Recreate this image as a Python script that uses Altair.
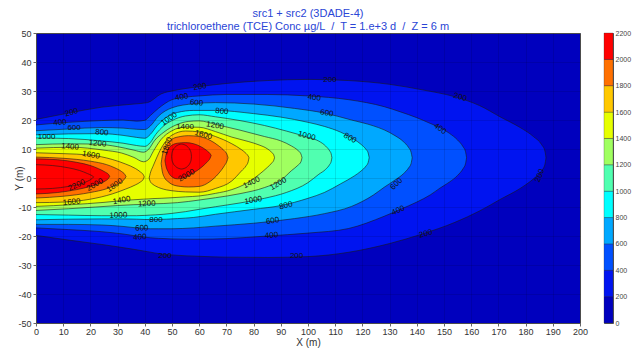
import altair as alt
import pandas as pd

FONT = "Liberation Sans"

# ---- contour levels and band colours (colour i = band [200*i, 200*(i+1)) ) ----
LEVELS = [200, 400, 600, 800, 1000, 1200, 1400, 1600, 1800, 2000, 2200]
BAND_COLORS = ["#0000BE", "#0014F0", "#0050FF", "#00A8FF", "#00FFFF", "#50FFB0",
               "#A0FF60", "#E6FF00", "#FFC800", "#FF7000", "#FF0000"]
CBAR_TICKS = [0, 200, 400, 600, 800, 1000, 1200, 1400, 1600, 1800, 2000, 2200]

# ---- contour outlines: x, lower y, upper y (m) ----
L200_X = [0, 12, 24, 36, 41, 46, 51, 60, 70, 85, 100, 115, 130, 142, 154, 163, 171, 178, 183, 185.9, 187.1, 187.5]
L200_HI = [20.2, 22.4, 24.4, 25.5, 26.0, 29.0, 30.2, 31.5, 32.6, 33.6, 34.0, 33.6, 32.3, 30.4, 28.0, 25.0, 20.9, 17.4, 14.2, 11.5, 9.3, 7.0]
L200_LO = [-19.8, -21.4, -22.9, -24.6, -25.4, -26.2, -26.6, -27.0, -27.3, -27.4, -27.1, -25.6, -22.6, -19.3, -15.3, -11.4, -7.2, -3.6, -0.2, 2.5, 4.7, 7.0]

L400_X = [0, 12, 24, 32, 37, 40, 42, 45, 50, 55, 60, 70, 85, 100, 115, 128, 134, 140, 145, 148.5, 152, 155, 157, 157.9, 158.3]
L400_HI = [18.3, 19.2, 19.8, 20.0, 19.6, 19.9, 21.5, 24.0, 27.0, 27.9, 28.3, 28.8, 28.8, 28.3, 27.0, 24.6, 22.8, 20.8, 18.8, 17.4, 15.4, 13.1, 10.8, 9.1, 7.0]
L400_LO = [-17.2, -17.8, -18.5, -19.3, -20.0, -20.4, -20.6, -20.8, -21.0, -21.1, -21.1, -20.9, -20.0, -19.0, -17.4, -13.2, -10.8, -8.3, -5.8, -3.5, -1.4, 0.9, 3.2, 4.9, 7.0]

L600_X = [0, 12, 24, 32, 37, 40, 42, 45, 50, 58, 66, 80, 95, 106, 116, 124, 128, 132, 135, 137, 137.9, 138.3]
L600_HI = [16.3, 16.9, 17.4, 17.2, 16.8, 16.7, 17.9, 21.3, 24.2, 25.6, 26.0, 25.5, 24.0, 22.4, 20.0, 18.0, 16.6, 14.6, 12.6, 10.5, 8.9, 7.0]
L600_LO = [-16.0, -16.0, -16.2, -16.7, -17.2, -17.4, -17.5, -17.5, -17.5, -17.2, -16.6, -15.6, -14.0, -12.3, -9.8, -5.9, -3.2, -0.7, 1.4, 3.5, 5.0, 7.0]

L800_X = [0, 12, 24, 32, 37, 40, 42, 44.5, 48, 52, 58, 66, 80, 90, 100, 106, 112, 117, 119.5, 121.3, 122.1, 122.5]
L800_HI = [14.9, 15.2, 15.3, 14.7, 14.0, 13.7, 15.0, 18.0, 21.0, 22.6, 23.3, 23.3, 22.2, 21.0, 19.2, 17.8, 15.8, 13.3, 11.6, 9.9, 8.7, 7.0]
L800_LO = [-14.4, -14.2, -14.1, -14.1, -14.2, -14.3, -14.3, -14.3, -14.2, -14.0, -13.6, -12.5, -10.8, -9.5, -7.0, -5.0, -2.0, 0.7, 2.4, 4.1, 5.3, 7.0]

L1000_X = [0, 12, 24, 32, 37, 40, 42, 44, 47, 50, 55, 60, 66, 75, 84, 92, 100, 104, 106.5, 108, 108.5, 108.8]
L1000_HI = [13.8, 13.6, 12.8, 12.0, 11.2, 10.9, 12.2, 15.0, 18.0, 19.8, 21.4, 21.8, 21.1, 19.8, 18.1, 16.2, 14.0, 12.7, 11.0, 9.3, 8.4, 7.0]
L1000_LO = [-12.6, -12.8, -13.0, -13.0, -13.0, -12.9, -12.8, -12.7, -12.5, -12.2, -11.6, -10.8, -9.9, -8.6, -7.0, -5.0, -1.6, 1.3, 3.0, 4.7, 5.6, 7.0]

L1200_X = [0, 12, 22, 30, 36, 39.5, 41.5, 43.5, 47, 52, 56, 60, 66, 75, 84, 90, 94, 96.3, 97.4, 97.8]
L1200_HI = [11.5, 11.8, 11.7, 10.8, 9.6, 8.9, 10.0, 12.8, 15.8, 18.5, 19.5, 19.7, 18.5, 16.5, 14.3, 12.8, 11.0, 9.5, 8.3, 7.0]
L1200_LO = [-11.2, -10.6, -10.0, -9.5, -9.2, -9.1, -9.0, -8.9, -8.8, -8.5, -8.1, -7.6, -6.8, -5.4, -3.3, -0.8, 2.6, 4.4, 5.6, 7.0]

L1400_X = [0, 13, 25, 31.5, 36, 39.5, 41.5, 43, 46, 50, 55, 60, 66, 72, 78, 82, 85, 86.7, 87.4, 87.7]
L1400_HI = [10.3, 10.6, 9.6, 8.6, 7.1, 5.6, 6.5, 9.0, 13.3, 16.3, 17.6, 17.5, 16.0, 14.1, 12.6, 11.4, 10.1, 8.8, 8.0, 7.0]
L1400_LO = [-9.8, -9.2, -8.4, -7.8, -7.5, -7.3, -7.2, -7.1, -7.0, -6.8, -6.5, -6.2, -5.3, -4.0, -1.5, 1.2, 3.6, 5.2, 6.1, 7.0]

L1600A_X = [0, 10, 20, 28, 33, 36.5, 38.5, 39.4, 39.8]
L1600A_HI = [8.7, 8.4, 7.9, 6.4, 4.8, 3.3, 2.0, 1.2, 0.4]
L1600A_LO = [-8.5, -8.3, -7.3, -5.5, -3.8, -2.4, -1.3, -0.5, 0.4]

L1600B_X = [41.6, 42.0, 43.0, 44, 46, 48, 50, 55, 60, 66, 72, 75.5, 77.3, 78.0, 78.3]
L1600B_HI = [0.0, 1.6, 4.0, 6.2, 10.2, 13.0, 14.8, 16.2, 15.9, 14.3, 11.8, 9.8, 8.4, 7.6, 7.0]
L1600B_LO = [0.0, -1.2, -2.2, -2.8, -3.6, -4.1, -4.4, -4.8, -4.9, -3.6, -1.0, 2.4, 4.3, 5.6, 7.0]

L1800A_X = [0, 10, 20, 26, 29, 31.5, 32.6, 33.1]
L1800A_HI = [7.2, 6.8, 5.8, 4.6, 3.5, 2.2, 1.3, 0.5]
L1800A_LO = [-6.9, -6.3, -5.0, -3.7, -2.6, -1.3, -0.3, 0.5]

L1800B_X = [46.0, 46.4, 47.2, 48.5, 50, 53, 56, 60, 64, 67, 69.3, 70.2, 70.6]
L1800B_HI = [5.0, 7.5, 10.0, 12.0, 13.4, 14.3, 14.6, 14.3, 13.0, 11.2, 9.3, 8.2, 7.0]
L1800B_LO = [5.0, 2.4, 0.2, -1.2, -2.2, -2.9, -3.1, -2.9, -1.2, 1.4, 4.3, 5.8, 7.0]

L2000A_X = [0, 8, 15, 20, 23, 25.5, 26.6, 27.1]
L2000A_HI = [6.6, 6.3, 5.4, 4.3, 3.2, 2.0, 1.3, 0.6]
L2000A_LO = [-5.5, -5.0, -4.0, -2.9, -2.0, -1.0, -0.2, 0.6]

L2000B_X = [47.4, 47.8, 48.5, 49.5, 52, 55, 58, 61, 63, 64.0, 64.4]
L2000B_HI = [6.0, 8.0, 9.8, 11.0, 12.0, 12.2, 11.8, 10.6, 9.3, 8.4, 7.8]
L2000B_LO = [6.0, 4.0, 2.3, 0.8, -0.3, 0.3, 1.8, 3.8, 5.6, 6.8, 7.8]

L2200A_X = [0, 6, 12, 16, 19, 20.6, 21.2]
L2200A_HI = [4.6, 4.3, 3.5, 2.6, 1.5, 0.8, 0.4]
L2200A_LO = [-3.8, -3.6, -2.9, -2.2, -1.1, -0.2, 0.4]

L2200B_X = [49.85, 49.95, 50.3, 51.2, 52.5, 53.5, 54.5, 55.8, 56.7, 57.05, 57.15]
L2200B_HI = [7.4, 8.4, 9.5, 10.7, 11.5, 11.7, 11.5, 10.7, 9.5, 8.4, 7.4]
L2200B_LO = [7.4, 6.4, 5.3, 4.1, 3.3, 3.1, 3.3, 4.1, 5.3, 6.4, 7.4]

# ---- contour labels: text, x, y, rotation (deg, clockwise) ----
LABEL_TEXT = ["200", "400", "600", "800", "1000", "1200", "1400", "1600",
              "2200", "2000", "1800", "1600", "1400", "1000", "1200", "800", "600", "400", "200",
              "1800", "1000", "1400", "1600", "1200", "800", "600", "400", "200", "2000",
              "1400", "1200", "1000", "800", "600", "400", "200",
              "1000", "800", "600", "400", "200",
              "200", "400", "600", "400", "200", "200"]
LABEL_X = [13.1, 8.8, 14.0, 24.2, 3.9, 22.6, 12.5, 20.2,
           15.0, 21.7, 29.0, 13.1, 31.5, 30.3, 40.7, 44.1, 38.9, 38.2, 47.4,
           48.3, 49.0, 54.8, 61.5, 65.8, 68.3, 59.0, 53.6, 60.3, 55.4,
           79.3, 89.1, 79.9, 91.9, 87.0, 86.6, 95.8,
           99.5, 115.4, 106.9, 102.3, 108.1,
           155.9, 148.5, 132.6, 133.2, 143.3, 185.3]
LABEL_Y = [22.5, 19.0, 17.2, 15.6, 14.0, 11.8, 10.7, 7.8,
           -2.6, -2.4, -2.6, -8.4, -7.8, -13.0, -9.0, -14.4, -17.4, -20.5, -27.0,
           11.0, 20.3, 17.5, 14.8, 18.0, 22.9, 25.8, 27.8, 31.3, 0.8,
           -1.7, -2.1, -7.8, -9.6, -14.9, -19.9, -26.8,
           14.4, 13.7, 22.3, 27.6, 33.9,
           27.8, 16.9, -2.1, -11.3, -19.3, 0.8]
LABEL_ANGLE = [345, 355, 0, 5, 0, 5, 5, 10,
               335, 330, 325, 355, 350, 358, 358, 0, 358, 358, 0,
               290, 325, 0, 15, 10, 5, 5, 350, 350, 330,
               335, 330, 350, 345, 350, 355, 0,
               15, 30, 10, 5, 0,
               15, 35, 315, 335, 345, 290]

BLOBS = [
    (200, "a", L200_X, L200_LO, L200_HI),
    (400, "a", L400_X, L400_LO, L400_HI),
    (600, "a", L600_X, L600_LO, L600_HI),
    (800, "a", L800_X, L800_LO, L800_HI),
    (1000, "a", L1000_X, L1000_LO, L1000_HI),
    (1200, "a", L1200_X, L1200_LO, L1200_HI),
    (1400, "a", L1400_X, L1400_LO, L1400_HI),
    (1600, "a", L1600A_X, L1600A_LO, L1600A_HI),
    (1600, "b", L1600B_X, L1600B_LO, L1600B_HI),
    (1800, "a", L1800A_X, L1800A_LO, L1800A_HI),
    (1800, "b", L1800B_X, L1800B_LO, L1800B_HI),
    (2000, "a", L2000A_X, L2000A_LO, L2000A_HI),
    (2000, "b", L2000B_X, L2000B_LO, L2000B_HI),
    (2200, "a", L2200A_X, L2200A_LO, L2200A_HI),
    (2200, "b", L2200B_X, L2200B_LO, L2200B_HI),
]

area_rows, line_rows = [], []
for level, tag, xs, los, his in BLOBS:
    key = f"{level}{tag}"
    for x, lo, hi in zip(xs, los, his):
        area_rows.append({"level": level, "key": key, "x": x, "lo": lo, "hi": hi})
        line_rows.append({"level": level, "key": key + "lo", "x": x, "y": lo})
        line_rows.append({"level": level, "key": key + "hi", "x": x, "y": hi})
area_df = pd.DataFrame(area_rows)
line_df = pd.DataFrame(line_rows)
label_df = pd.DataFrame({"t": LABEL_TEXT, "x": LABEL_X, "y": LABEL_Y, "a": LABEL_ANGLE})
cbar_df = pd.DataFrame({"lo": CBAR_TICKS[:-1], "hi": CBAR_TICKS[1:], "c": BAND_COLORS})

xscale = alt.Scale(domain=[0, 200], nice=False, zero=False)
yscale = alt.Scale(domain=[-50, 50], nice=False, zero=False)
xaxis = alt.Axis(values=list(range(0, 201, 10)), title="X (m)", labelFont=FONT, labelFontSize=9,
                 labelColor="#333333", titleFont=FONT, titleFontSize=10, titleFontWeight="normal",
                 titleColor="#333333", grid=True, gridColor="#000000", gridOpacity=0.18, gridWidth=0.6,
                 tickSize=3, tickColor="#666666", domain=False, zindex=1, labelPadding=1,
                 titlePadding=1, labelFlush=False)
yaxis = alt.Axis(values=list(range(-50, 51, 10)), title="Y (m)", labelFont=FONT, labelFontSize=9,
                 labelColor="#333333", titleFont=FONT, titleFontSize=10, titleFontWeight="normal",
                 titleColor="#333333", grid=True, gridColor="#000000", gridOpacity=0.18, gridWidth=0.6,
                 tickSize=3, tickColor="#666666", domain=False, zindex=1, labelPadding=2,
                 titleX=-12, titleBaseline="bottom", labelFlush=False,
                 labelExpr="datum.value + ''")


def band(level):
    return BAND_COLORS[min(level // 200, len(BAND_COLORS) - 1)]


layers = []
for lev in LEVELS:
    layers.append(
        alt.Chart(area_df).transform_filter(alt.datum.level == lev)
        .mark_area(interpolate="monotone", color=band(lev))
        .encode(x=alt.X("x:Q", scale=xscale, axis=xaxis),
                y=alt.Y("lo:Q", scale=yscale, axis=yaxis),
                y2="hi:Q", detail="key:N")
    )

lines = alt.Chart(line_df).mark_line(interpolate="monotone", color="#1a1a1a", strokeWidth=0.7,
                                     opacity=0.85).encode(
    x=alt.X("x:Q", scale=xscale, axis=xaxis),
    y=alt.Y("y:Q", scale=yscale, axis=yaxis),
    detail="key:N")

labels = alt.Chart(label_df).mark_text(font=FONT, fontSize=8, color="#111111").encode(
    x=alt.X("x:Q", scale=xscale, axis=xaxis),
    y=alt.Y("y:Q", scale=yscale, axis=yaxis),
    text="t:N",
    angle=alt.Angle("a:Q", scale=None))

main = alt.layer(*layers, lines, labels).properties(
    width=544, height=290,
    title=alt.TitleParams(
        text=["src1 + src2 (3DADE-4)",
              "trichloroethene (TCE) Conc µg/L \u00a0/\u00a0 T = 1.e+3 d \u00a0/\u00a0 Z = 6 m"],
        font=FONT, fontSize=11, fontWeight="normal", color="#2A45D6",
        anchor="middle", offset=-3, lineHeight=13))

cbar = alt.Chart(cbar_df).mark_rect(stroke="#333333", strokeWidth=0.3).encode(
    x=alt.value(0), x2=alt.value(9),
    y=alt.Y("lo:Q", scale=alt.Scale(domain=[0, 2200], nice=False),
            axis=alt.Axis(orient="right", values=CBAR_TICKS, ticks=False, domain=False, grid=False,
                          labelFont=FONT, labelFontSize=7, labelColor="#444444", title=None,
                          labelPadding=2, labelFlush=False, format="d")),
    y2="hi:Q",
    color=alt.Color("c:N", scale=None)
).properties(width=9, height=290)

chart = alt.hconcat(main, cbar, spacing=24, bounds="flush").properties(
    padding={"left": 5, "top": -1, "right": 0, "bottom": 0}
).configure_view(stroke="#555555", strokeWidth=1, fill=BAND_COLORS[0])

chart.save("out.html", embed_options={"renderer": "svg", "actions": False})
